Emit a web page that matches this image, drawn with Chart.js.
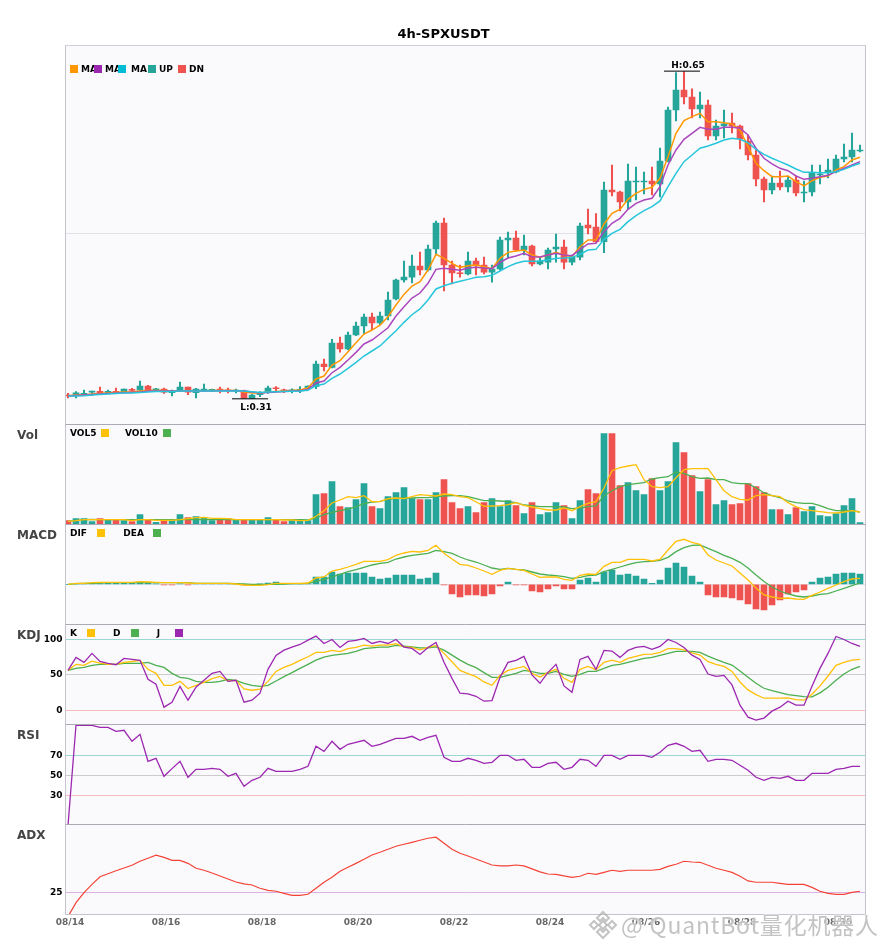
<!DOCTYPE html>
<html>
<head>
<meta charset="utf-8">
<title>4h-SPXUSDT</title>
<script src="https://cdn.jsdelivr.net/npm/chart.js@4"></script>
<style>
  html, body { margin: 0; padding: 0; background: #fff; }
  #page { position: relative; width: 885px; height: 950px; overflow: hidden; }
  canvas { position: absolute; left: 0; }
  #mark { position: absolute; left: 588px; top: 910px; width: 295px; height: 30px; white-space: nowrap;
          font-family: "Noto Sans CJK SC", sans-serif; font-size: 23px; line-height: 28px;
          color: rgba(175,175,175,.75); text-shadow: 0 0 2px #fff, 0 0 2px #fff; }
  #mark svg { position: absolute; left: 0; top: 0; }
  #mark span { position: absolute; left: 33px; top: 0; letter-spacing: .8px; }
</style>
</head>
<body>
<div id="page">
  <canvas id="chart1"></canvas>
  <canvas id="chart2"></canvas>
  <canvas id="chart3"></canvas>
  <canvas id="chart4"></canvas>
  <canvas id="chart5"></canvas>
  <canvas id="chart6"></canvas>
  <div id="mark">
    <svg width="30" height="30" viewBox="0 0 30 30" fill="none" stroke="rgba(175,175,175,.75)" stroke-width="2">
      <path d="M15 2 L21 8 L18 11 L15 8 L12 11 L9 8 Z"/>
      <path d="M15 28 L21 22 L18 19 L15 22 L12 19 L9 22 Z"/>
      <path d="M2 15 L6 11 L10 15 L6 19 Z"/>
      <path d="M28 15 L24 11 L20 15 L24 19 Z"/>
      <path d="M15 11 L19 15 L15 19 L11 15 Z"/>
    </svg>
    <span>@ QuantBot量化机器人</span>
  </div>
</div>
<script>
const chartTitle = "4h-SPXUSDT";
const dateLabels = ["08/14","08/16","08/18","08/20","08/22","08/24","08/26","08/28","08/30"];

const candleOpen = [
  .3131,.3131,.3131,.3162,.3170,.3155,.3170,.3155,.3186,.3183,
  .3225,.3186,.3194,.3155,.3176,.3214,.3155,.3176,.3180,.3189,
  .3186,.3173,.3176,.3097,.3134,.3162,.3204,.3186,.3176,.3173,
  .3204,.3218,.3454,.3419,.3672,.3610,.3755,.3849,.3942,.3880,
  .3953,.4130,.4327,.4358,.4473,.4431,.4650,.4920,.4483,.4400,
  .4390,.4525,.4483,.4410,.4442,.4743,.4764,.4639,.4681,.4494,
  .4514,.4650,.4670,.4514,.4566,.4899,.4878,.4726,.5263,.5242,
  .5138,.5346,.5346,.5357,.5326,.5565,.6095,.6303,.6230,.6106,
  .6147,.5825,.5929,.5960,.5929,.5773,.5627,.5378,.5263,.5336,
  .5294,.5367,.5232,.5242,.5419,.5450,.5450,.5586,.5606,.5669];
const candleHigh = [
  .3149,.3166,.3183,.3173,.3214,.3183,.3204,.3194,.3201,.3277,
  .3232,.3201,.3204,.3183,.3266,.3214,.3201,.3246,.3194,.3214,
  .3204,.3194,.3183,.3138,.3166,.3225,.3218,.3194,.3197,.3218,
  .3228,.3485,.3506,.3710,.3734,.3786,.3890,.3974,.3984,.3994,
  .4202,.4338,.4525,.4587,.4618,.4691,.4941,.4972,.4525,.4483,
  .4618,.4556,.4566,.4483,.4774,.4826,.4837,.4795,.4691,.4566,
  .4660,.4806,.4743,.4587,.4920,.5066,.5017,.5346,.5523,.5253,
  .5534,.5502,.5450,.5502,.5700,.6126,.6483,.6494,.6314,.6282,
  .6199,.5991,.6095,.6064,.5939,.5835,.5679,.5398,.5409,.5461,
  .5409,.5409,.5357,.5523,.5523,.5586,.5627,.5742,.5856,.5731];
const candleLow = [
  .3100,.3100,.3131,.3131,.3149,.3149,.3149,.3152,.3166,.3183,
  .3183,.3176,.3149,.3121,.3166,.3134,.3100,.3176,.3166,.3152,
  .3152,.3152,.3098,.3097,.3114,.3149,.3176,.3155,.3152,.3155,
  .3197,.3197,.3381,.3412,.3578,.3602,.3748,.3766,.3807,.3859,
  .3911,.4119,.4306,.4296,.4379,.4421,.4587,.4213,.4286,.4358,
  .4379,.4379,.4390,.4306,.4431,.4556,.4629,.4587,.4473,.4483,
  .4442,.4514,.4442,.4483,.4535,.4806,.4719,.4611,.5201,.5045,
  .5066,.5159,.5222,.5211,.5190,.5554,.5981,.6158,.6012,.6012,
  .5783,.5783,.5804,.5856,.5690,.5575,.5305,.5138,.5222,.5263,
  .5242,.5201,.5138,.5201,.5326,.5388,.5440,.5554,.5554,.5658];
const candleClose = [
  .3121,.3155,.3149,.3170,.3155,.3170,.3155,.3194,.3180,.3225,
  .3183,.3194,.3162,.3176,.3214,.3162,.3194,.3194,.3190,.3183,
  .3176,.3180,.3098,.3131,.3149,.3204,.3197,.3176,.3186,.3190,
  .3225,.3454,.3426,.3672,.3610,.3755,.3849,.3942,.3880,.3953,
  .4119,.4327,.4358,.4473,.4431,.4650,.4920,.4483,.4400,.4392,
  .4525,.4483,.4410,.4442,.4743,.4764,.4639,.4681,.4494,.4525,
  .4639,.4670,.4514,.4566,.4889,.4868,.4726,.5263,.5242,.5138,
  .5357,.5357,.5357,.5326,.5565,.6095,.6303,.6230,.6106,.6147,
  .5825,.5929,.5950,.5929,.5794,.5627,.5378,.5263,.5336,.5294,
  .5367,.5232,.5242,.5440,.5430,.5471,.5586,.5606,.5679,.5679];

const ma5 = [
  .3124,.3131,.3131,.3142,.3147,.3152,.3157,.3162,.3162,.3173,
  .3178,.3178,.3178,.3173,.3173,.3173,.3173,.3173,.3178,.3178,
  .3178,.3178,.3162,.3152,.3152,.3162,.3168,.3173,.3178,.3183,
  .3204,.3298,.3329,.3443,.3488,.3582,.3675,.3766,.3807,.3859,
  .3946,.4067,.4178,.4265,.4310,.4431,.4594,.4553,.4501,.4459,
  .4476,.4483,.4466,.4445,.4553,.4615,.4629,.4639,.4587,.4563,
  .4587,.4615,.4587,.4570,.4674,.4743,.4743,.4910,.5021,.5062,
  .5166,.5229,.5270,.5291,.5385,.5610,.5853,.5984,.6026,.6061,
  .5974,.5974,.5963,.5950,.5887,.5714,.5541,.5464,.5402,.5402,
  .5409,.5350,.5305,.5360,.5395,.5409,.5471,.5506,.5575,.5603];
const ma10 = [
  .3121,.3126,.3131,.3136,.3142,.3147,.3152,.3155,.3159,.3162,
  .3173,.3173,.3173,.3173,.3173,.3173,.3173,.3173,.3173,.3176,
  .3176,.3176,.3173,.3162,.3152,.3157,.3162,.3168,.3173,.3176,
  .3190,.3256,.3277,.3363,.3419,.3495,.3575,.3662,.3703,.3766,
  .3831,.3953,.4050,.4140,.4192,.4293,.4438,.4449,.4438,.4428,
  .4452,.4459,.4452,.4445,.4511,.4556,.4577,.4605,.4570,.4566,
  .4587,.4605,.4587,.4580,.4646,.4702,.4709,.4830,.4917,.4969,
  .5062,.5125,.5159,.5177,.5298,.5523,.5679,.5790,.5853,.5915,
  .5894,.5894,.5915,.5915,.5905,.5835,.5697,.5593,.5534,.5489,
  .5464,.5409,.5374,.5385,.5402,.5416,.5454,.5489,.5523,.5558];
const ma20 = [
  .3121,.3121,.3124,.3131,.3136,.3142,.3147,.3152,.3152,.3157,
  .3162,.3168,.3168,.3168,.3173,.3173,.3173,.3173,.3173,.3173,
  .3173,.3173,.3173,.3166,.3157,.3162,.3166,.3168,.3170,.3173,
  .3180,.3228,.3246,.3305,.3350,.3409,.3471,.3537,.3589,.3641,
  .3721,.3800,.3887,.3966,.4026,.4119,.4234,.4268,.4293,.4314,
  .4334,.4355,.4362,.4376,.4421,.4466,.4501,.4522,.4522,.4525,
  .4535,.4553,.4556,.4563,.4594,.4639,.4646,.4750,.4813,.4854,
  .4934,.4996,.5048,.5090,.5149,.5298,.5437,.5558,.5627,.5697,
  .5721,.5749,.5783,.5801,.5790,.5755,.5686,.5634,.5593,.5558,
  .5523,.5482,.5447,.5447,.5443,.5443,.5454,.5478,.5513,.5541];

const volume = [
  3.3,5.3,5.3,2.3,5.3,4.3,4.3,3.3,2.3,9.3,
  4.3,1.7,3.3,4.3,9.3,6.3,7.3,6.3,3.3,5.3,
  5.3,4.3,4.3,4.3,4.3,6.3,4.3,2.3,4.3,4.3,
  3.3,29.3,30.3,42.3,17.3,16.3,24.3,40.3,17.3,15.3,
  27.3,31.3,36.3,25.3,24.3,24.3,31.3,44.3,21.3,15.3,
  17.3,11.3,21.3,25.3,17.3,23.3,18.3,10.3,21.3,9.3,
  11.3,21.3,18.3,5.3,23.3,34.3,30.3,90.3,90.3,38.3,
  41.3,33.3,29.3,45.3,33.3,42.3,81.3,71.3,48.3,32.3,
  44.3,19.3,23.3,19.3,20.3,40.3,37.3,31.3,14.3,14.3,
  9.3,16.3,12.3,17.3,8.3,7.3,10.3,18.3,25.3,1.3];
const vol5 = [
  2.7,3.3,4.3,4.3,4.3,4.3,4.3,4.3,3.3,4.3,
  4.3,3.7,3.7,3.7,4.3,5.3,6.3,6.7,5.7,5.7,
  5.3,4.3,4.3,4.3,4.3,4.3,4.3,4,4,3.3,
  3.7,7.7,13.3,21,24,27.3,26.3,28.3,22.3,22.3,
  25.3,26,25.3,27.3,29.3,28.7,28,30,29.3,27.3,
  26.3,22.3,17.7,18,18.3,19.3,21.3,18.7,17,15.3,
  14,14,16,13.3,17.3,20.7,22.3,36,53.3,56.3,
  58,59.3,44.3,37.3,36.3,37.3,46.3,54.3,55.3,55.3,
  55.3,44.3,33.3,27.3,24.7,24,28.3,29.3,28.3,27.3,
  21.3,17.3,14.3,13.3,12.3,11.3,11,12,13.3,12];
const vol10 = [
  2.7,3.7,4.3,4.7,4.3,4.3,4.3,4.3,4.3,4.3,
  4.3,4.3,4.3,4.3,4.3,4.3,4.3,4.3,4.3,4.3,
  4.3,4.3,4.3,4.3,4.3,4.3,4.3,4.3,4.3,4.3,
  4,6,9.3,11.7,13.3,15,17.3,20.3,22,22.7,
  24.7,25.7,26,26,26.3,26.3,27.3,28,28.3,28.3,
  27.3,25.3,23.3,23.3,23,22.3,21.3,19,18.3,17.3,
  17.3,17.3,17,15.3,16,17.3,18,28.3,33.3,37.3,
  39.3,40.3,41.3,45,46.3,47.3,52,50.7,47.3,45.7,
  46,44.3,44.3,41.3,40.3,40.3,36.3,31.3,28.3,26.3,
  23,21.3,20.7,20.7,18.3,15.3,13.3,13.3,13.3,12];

const dif = [
  0,.001,.001,.0017,.002,.002,.002,.002,.002,.0027,
  .0023,.002,.0017,.0017,.0017,.0013,.001,.001,.001,.001,
  .001,.0003,-.0007,-.001,-.001,-.0003,.001,.001,.001,.001,
  .0013,.0063,.0073,.0133,.015,.0173,.02,.023,.023,.023,
  .0247,.029,.0313,.033,.0323,.034,.039,.031,.0253,.02,
  .019,.0163,.0133,.01,.014,.016,.015,.014,.0103,.007,
  .0073,.0073,.005,.004,.009,.0103,.01,.018,.022,.022,
  .025,.025,.025,.0233,.025,.0343,.043,.045,.042,.04,
  .0293,.0243,.0213,.0183,.0113,.0043,-.0037,-.0107,-.0127,-.014,
  -.0137,-.0147,-.015,-.011,-.0077,-.004,-.0007,.0027,.0053,.006];
const dea = [
  0,.0007,.001,.001,.0013,.0017,.0017,.0017,.0017,.0017,
  .0017,.0017,.0017,.0017,.0017,.0017,.001,.001,.001,.001,
  .001,.0007,.0003,0,0,0,0,.0003,.0007,.0007,
  .001,.003,.005,.0073,.01,.0127,.0147,.017,.0193,.021,
  .022,.0253,.0273,.029,.03,.031,.034,.0327,.031,.0273,
  .0243,.0223,.0193,.0163,.015,.016,.015,.0143,.0123,.0103,
  .0093,.0087,.0077,.006,.007,.0087,.0093,.0127,.015,.0173,
  .0197,.0217,.0227,.023,.024,.027,.0327,.0367,.039,.0393,
  .036,.0327,.029,.026,.022,.0163,.0093,.0027,-.0027,-.0067,
  -.0097,-.0117,-.0127,-.0117,-.01,-.0093,-.0067,-.004,-.0013,.0013];
const macdHist = [
  0,.0005,.0005,.001,.0007,.001,.001,.001,.001,.0013,
  .001,.0005,-.0007,-.0007,.0003,-.0007,.0003,.0003,.0003,.0003,
  .0003,.0003,-.0003,-.0003,.0003,.0013,.0023,.0003,.0005,.0005,
  .0007,.0073,.0073,.0123,.0103,.0113,.0113,.0113,.0073,.0053,
  .0063,.0093,.0093,.0093,.0053,.0063,.0113,-.0007,-.0097,-.0127,
  -.0107,-.0107,-.0117,-.0097,-.0017,.0023,-.0007,-.0007,-.0067,-.0077,
  -.0047,-.0017,-.0047,-.0047,.0043,.0063,.0023,.0123,.0143,.0093,
  .0103,.0083,.0053,.001,.0043,.0163,.0213,.0173,.0083,.0023,
  -.0107,-.0127,-.0127,-.0137,-.0157,-.0197,-.0247,-.0257,-.0207,-.0157,
  -.0097,-.0077,-.0057,.0023,.0063,.0073,.0103,.0113,.0113,.0103];

const kdjK = [
  56.5,65,63.5,69.6,66.8,65,65,67.8,69,70.6,
  58,52.3,35.5,35.5,41,31,35.5,39.7,45,48,
  41.6,42.5,30.4,28.5,30,41,55,60.7,65,70.6,
  75.7,81.8,81.8,84.6,83,87,88.8,92,90.7,92,
  92,94,89.7,88.8,85.5,88.8,91.6,80.4,68.7,56.5,
  51.9,47.7,40.2,35.5,49.5,56.5,59.3,62,52.3,47.2,
  53.7,58,45.3,39.7,58,62,57.5,67.8,71,67.8,
  73.4,76.2,79,79.4,81.8,87,87,85.5,81.3,78,
  68.7,65,62,55,40.2,29,22.4,17.3,17.3,17.3,
  17.8,15.4,14.5,22.9,34.6,48.6,63.6,67.8,71,72];
const kdjD = [
  56.5,59.3,60.7,63.6,65,65,65,66.4,66.4,66.4,
  67.8,63.6,60.7,52.3,46.7,45.3,41,39.7,39.7,41,
  43.9,42.5,38.3,35.5,34.1,35.5,41.6,47.7,53.3,59.3,
  65,71,75.2,77.6,79,80.4,83.2,87,88.3,89.3,
  89.3,91.6,90.7,89.7,88.3,88.3,89.7,85,78,71,
  65,60.3,53.3,46.7,46.7,49.5,52.3,56.5,54.7,52.3,
  52.3,55,50.9,48,51,55,55,59.3,63.6,65,
  67.8,70.6,73.4,74.8,77.6,80.4,83.2,83.2,83.2,81.8,
  76.6,72,67.8,64,55.6,46.7,38.3,31.3,28,25.2,
  22.4,21,19.6,19.2,24.8,32.7,42.5,51.4,58,62];
const kdjJ = [
  56.5,74.8,67.8,80.4,69.2,66.4,64.5,73.4,72,70.6,
  43.9,36.9,4.7,11.7,34,14.5,32.7,42.5,52.3,55.1,
  41,42.5,11.7,14.5,24.3,58,77.6,85,89.3,93,
  99,104.7,94.4,100,88.8,97.2,98.6,101.4,94.4,97.2,
  94.4,100,89.3,87.4,79,88.8,95.8,67.8,45.3,24.3,
  23.4,20,13.1,14,46.7,67.8,70.6,76.2,50,38.3,
  53.7,65,34.6,25.7,72,76.2,57.9,84.6,83.7,74.8,
  84.6,88.8,90.2,86,90.2,100,95.8,88.8,78,72,
  51.4,48,49.5,36,7.5,-9.3,-13.6,-10.7,-.9,4.7,
  13,7.5,7.5,34,59.3,80.4,104.2,100,94.4,90.2];

const rsi = [
  0,100,100,100,98,98,94,95,84,91,
  64,67,49,56.7,64,48,56,56,57,56,
  49,52,39,45,48,57,54,54,54,56,
  59,79,74,84,76,81,83,85,79,81,
  84,87,87,89,85,88,90,68,64,64,
  67,65,62,63,70,70,65,66,58,58,
  62,63,56,58,66,65,59,70,70,66,
  70,70,70,68,73,80,82,79,74,75,
  64,66,66,65,60,55,48,45,48,47,
  49,45,45,52,52,52,56,57,59,59];
const adx = [
  8.8,18.1,24.8,30.3,35.4,37.4,39.4,41.2,43,45.7,
  47.7,49.7,48.3,46.3,46.3,44.3,41,39.7,37.9,35.9,
  33.9,31.9,30.6,29.9,27.7,26.3,25.7,24.3,23,23,
  23.7,27.7,31.7,35,39,41.7,44.3,47,49.9,51.7,
  53.7,55.7,57,58.3,59.7,61,61.7,57.7,53.7,51,
  49.2,47.2,45.2,43.2,42.6,42.6,43.2,42.6,40.6,38.6,
  37.2,37,35.9,35,35.7,37.7,37,38.3,39.7,39,
  39.7,39.7,39.7,39.7,40.3,42.3,43.7,45.7,45.2,45,
  43,41,39.7,38.3,35.7,32.6,31.7,31.7,31.7,31,
  30.3,30.3,30.3,28.3,25.7,24.3,23.7,23.7,25,25.7];

const UP = "#26a69a", DN = "#ef5350";
const labels = candleOpen.map((v, i) => i);
const candleColors = candleOpen.map((v, i) => candleClose[i] >= v ? UP : DN);
const bodies = candleOpen.map((v, i) => [v, candleClose[i]]);
const wicks = candleLow.map((v, i) => [v, candleHigh[i]]);

// background, frame, panel name and the little legend of each panel
const panelPlugin = {
    id: "panel",
    beforeDraw(chart, args, opts) {
        const a = chart.chartArea, c = chart.ctx;
        c.save();
        c.fillStyle = "#fafafd";
        c.fillRect(a.left, a.top, a.right - a.left, a.bottom - a.top);
        c.restore();
    },
    afterDraw(chart, args, opts) {
        const a = chart.chartArea, c = chart.ctx;
        c.save();
        c.lineWidth = 1;
        c.strokeStyle = "#c4c4cc";
        c.beginPath();
        c.moveTo(a.left, a.top);
        c.lineTo(a.left, a.bottom);
        c.moveTo(a.right, a.top);
        c.lineTo(a.right, a.bottom);
        if (opts.last) {
            c.moveTo(a.left, a.bottom - .5);
            c.lineTo(a.right, a.bottom - .5);
        }
        c.stroke();
        c.strokeStyle = opts.first ? "#cfcfd8" : "#aaaab2";
        c.beginPath();
        c.moveTo(a.left, a.top + .5);
        c.lineTo(a.right, a.top + .5);
        c.stroke();
        c.textBaseline = "middle";
        if (opts.first) {
            c.font = "bold 13px 'DejaVu Sans'";
            c.fillStyle = "#000";
            c.textAlign = "center";
            c.fillText(chartTitle, 443.5, 35);
            c.textAlign = "left";
        }
        if (opts.name) {
            c.font = "bold 12px 'DejaVu Sans'";
            c.fillStyle = "#444";
            c.fillText(opts.name, 17, a.top + 12);
        }
        c.font = "bold 9px 'DejaVu Sans'";
        const ly = a.top + opts.legendY;
        opts.legend.forEach(item => {
            if (opts.first) {
                c.fillStyle = item.color;
                c.fillRect(item.boxX, ly - 4, 8, 8);
                c.fillStyle = "#000";
                c.fillText(item.text, item.textX, ly + 1);
            } else {
                c.fillStyle = "#000";
                c.fillText(item.text, item.textX, ly + 1);
                c.fillStyle = item.color;
                c.fillRect(item.boxX, ly - 4, 8, 8);
            }
        });
        c.restore();
    }
};

// H and L marks on the price panel
const extremePlugin = {
    id: "extreme",
    afterDatasetsDraw(chart) {
        if (chart.canvas.id !== "chart1") return;
        const x = chart.scales.x, y = chart.scales.y, c = chart.ctx;
        const hi = Math.max(...candleHigh), lo = Math.min(...candleLow);
        const marks = [
            { text: "H:" + hi.toFixed(2), xp: x.getPixelForValue(candleHigh.indexOf(hi)), yp: y.getPixelForValue(hi) - .5, dy: -5.5 },
            { text: "L:" + lo.toFixed(2), xp: x.getPixelForValue(candleLow.indexOf(lo)), yp: y.getPixelForValue(lo) + .5, dy: 8.5 }
        ];
        c.save();
        c.font = "bold 9px 'DejaVu Sans'";
        c.fillStyle = "#000";
        c.strokeStyle = "#000";
        c.lineWidth = 1;
        c.textAlign = "center";
        c.textBaseline = "middle";
        marks.forEach(m => {
            c.beginPath();
            c.moveTo(m.xp - 20, m.yp);
            c.lineTo(m.xp + 16, m.yp);
            c.stroke();
            c.fillText(m.text, m.xp + 4, m.yp + m.dy);
        });
        c.restore();
    }
};

function lineSet(data, color, order, width) {
    return { type: "line", data: data, borderColor: color, borderWidth: width || 1.3, pointRadius: 0, tension: 0, order: order };
}

function makePanel(id, top, height, cfg) {
    const canvas = document.getElementById(id);
    canvas.style.top = top + "px";
    canvas.width = 885;
    canvas.height = height;
    return new Chart(canvas, {
        type: "bar",
        data: { labels: labels, datasets: cfg.datasets },
        plugins: [panelPlugin, extremePlugin],
        options: {
            responsive: false,
            animation: false,
            layout: { padding: { top: cfg.padTop || 0, right: 19.5, left: 0, bottom: 0 } },
            plugins: {
                legend: { display: false },
                tooltip: { enabled: false },
                panel: { name: cfg.name, legend: cfg.legend, legendY: cfg.legendY, first: !cfg.name, last: !!cfg.dates }
            },
            scales: {
                x: {
                    type: "linear",
                    min: -0.3125,
                    max: 99.6875,
                    offset: false,
                    display: !!cfg.dates,
                    grid: { display: false, drawTicks: false, offset: false },
                    border: { display: false },
                    afterBuildTicks: s => { s.ticks = dateLabels.map((d, k) => ({ value: k * 12 })); },
                    afterFit: s => {
                        s.height = cfg.dates ? 35 : 0;
                        s.paddingLeft = 0;
                        s.paddingRight = 0;
                    },
                    ticks: {
                        autoSkip: false,
                        maxRotation: 0,
                        padding: 2,
                        labelOffset: 2,
                        color: "#666",
                        font: { family: "DejaVu Sans", size: 9, weight: "bold" },
                        callback: v => dateLabels[v / 12]
                    }
                },
                y: {
                    min: cfg.min,
                    max: cfg.max,
                    grid: { drawTicks: false, color: ctx => cfg.gridColors[cfg.ticks.indexOf(ctx.tick.value)] },
                    border: { display: false },
                    afterBuildTicks: s => { s.ticks = cfg.ticks.map(v => ({ value: v })); },
                    afterFit: s => {
                        s.width = 65.5;
                        s.paddingTop = 0;
                        s.paddingBottom = 0;
                    },
                    ticks: {
                        autoSkip: false,
                        padding: 3,
                        color: "#000",
                        font: { family: "DejaVu Sans", size: 9, weight: "bold" },
                        callback: v => cfg.tickText ? String(v) : ""
                    }
                }
            }
        }
    });
}

Chart.defaults.font.family = "DejaVu Sans";

makePanel("chart1", 0, 424, {
    padTop: 45,
    min: .283,
    max: .6771,
    ticks: [.4806],
    gridColors: ["#e0e0e6"],
    legendY: 24,
    legend: [
        { text: "MA", textX: 81, boxX: 70, color: "#ff9800" },
        { text: "MA", textX: 105, boxX: 94, color: "#9c27b0" },
        { text: "MA", textX: 131, boxX: 118, color: "#00bcd4" },
        { text: "UP", textX: 159, boxX: 148, color: UP },
        { text: "DN", textX: 189, boxX: 178, color: DN }
    ],
    datasets: [
        lineSet(ma5, "#ff9800", 2, 1.5),
        lineSet(ma10, "#ab47bc", 1, 1.5),
        lineSet(ma20, "#26c6da", 0, 1.5),
        { data: bodies, backgroundColor: candleColors, barThickness: 6, grouped: false, minBarLength: 1, order: 3 },
        { data: wicks, backgroundColor: candleColors, barThickness: 1.4, grouped: false, order: 4 }
    ]
});

makePanel("chart2", 424, 100, {
    name: "Vol",
    min: 0,
    max: 100,
    ticks: [],
    gridColors: [],
    legendY: 9,
    legend: [
        { text: "VOL5", textX: 70, boxX: 101, color: "#ffc107" },
        { text: "VOL10", textX: 125, boxX: 163, color: "#4caf50" }
    ],
    datasets: [
        lineSet(vol5, "#ffc107", 0),
        lineSet(vol10, "#4caf50", 1),
        { data: volume, backgroundColor: candleColors, barThickness: 6, grouped: false, order: 2 }
    ]
});

makePanel("chart3", 524, 100, {
    name: "MACD",
    min: -.0397,
    max: .0603,
    ticks: [0],
    gridColors: ["#e4e4e8"],
    legendY: 9,
    legend: [
        { text: "DIF", textX: 70, boxX: 97, color: "#ffc107" },
        { text: "DEA", textX: 123.3, boxX: 153, color: "#4caf50" }
    ],
    datasets: [
        lineSet(dif, "#ffc107", 0),
        lineSet(dea, "#4caf50", 1),
        { data: macdHist, backgroundColor: macdHist.map(v => v >= 0 ? UP : DN), barThickness: 6, grouped: false, order: 2 }
    ]
});

makePanel("chart4", 624, 100, {
    name: "KDJ",
    min: -19,
    max: 121.8,
    ticks: [0, 50, 100],
    tickText: true,
    gridColors: ["#f8bcbc", "#cccccc", "#9ad9d2"],
    legendY: 9,
    legend: [
        { text: "K", textX: 70, boxX: 87, color: "#ffc107" },
        { text: "D", textX: 113, boxX: 131, color: "#4caf50" },
        { text: "J", textX: 156.7, boxX: 175, color: "#9c27b0" }
    ],
    datasets: [
        lineSet(kdjJ, "#9c27b0", 0),
        lineSet(kdjK, "#ffc107", 1),
        lineSet(kdjD, "#4caf50", 2)
    ]
});

makePanel("chart5", 724, 100, {
    name: "RSI",
    min: 1.3,
    max: 101.3,
    ticks: [30, 50, 70],
    tickText: true,
    gridColors: ["#f8bcbc", "#cccccc", "#9ad9d2"],
    legendY: 9,
    legend: [],
    datasets: [lineSet(rsi, "#9c27b0", 0)]
});

makePanel("chart6", 824, 126, {
    name: "ADX",
    dates: true,
    min: 9.9,
    max: 70.5,
    ticks: [25],
    tickText: true,
    gridColors: ["#dcb2e4"],
    legendY: 9,
    legend: [],
    datasets: [lineSet(adx, "#f44336", 0, 1.2)]
});
</script>
</body>
</html>
